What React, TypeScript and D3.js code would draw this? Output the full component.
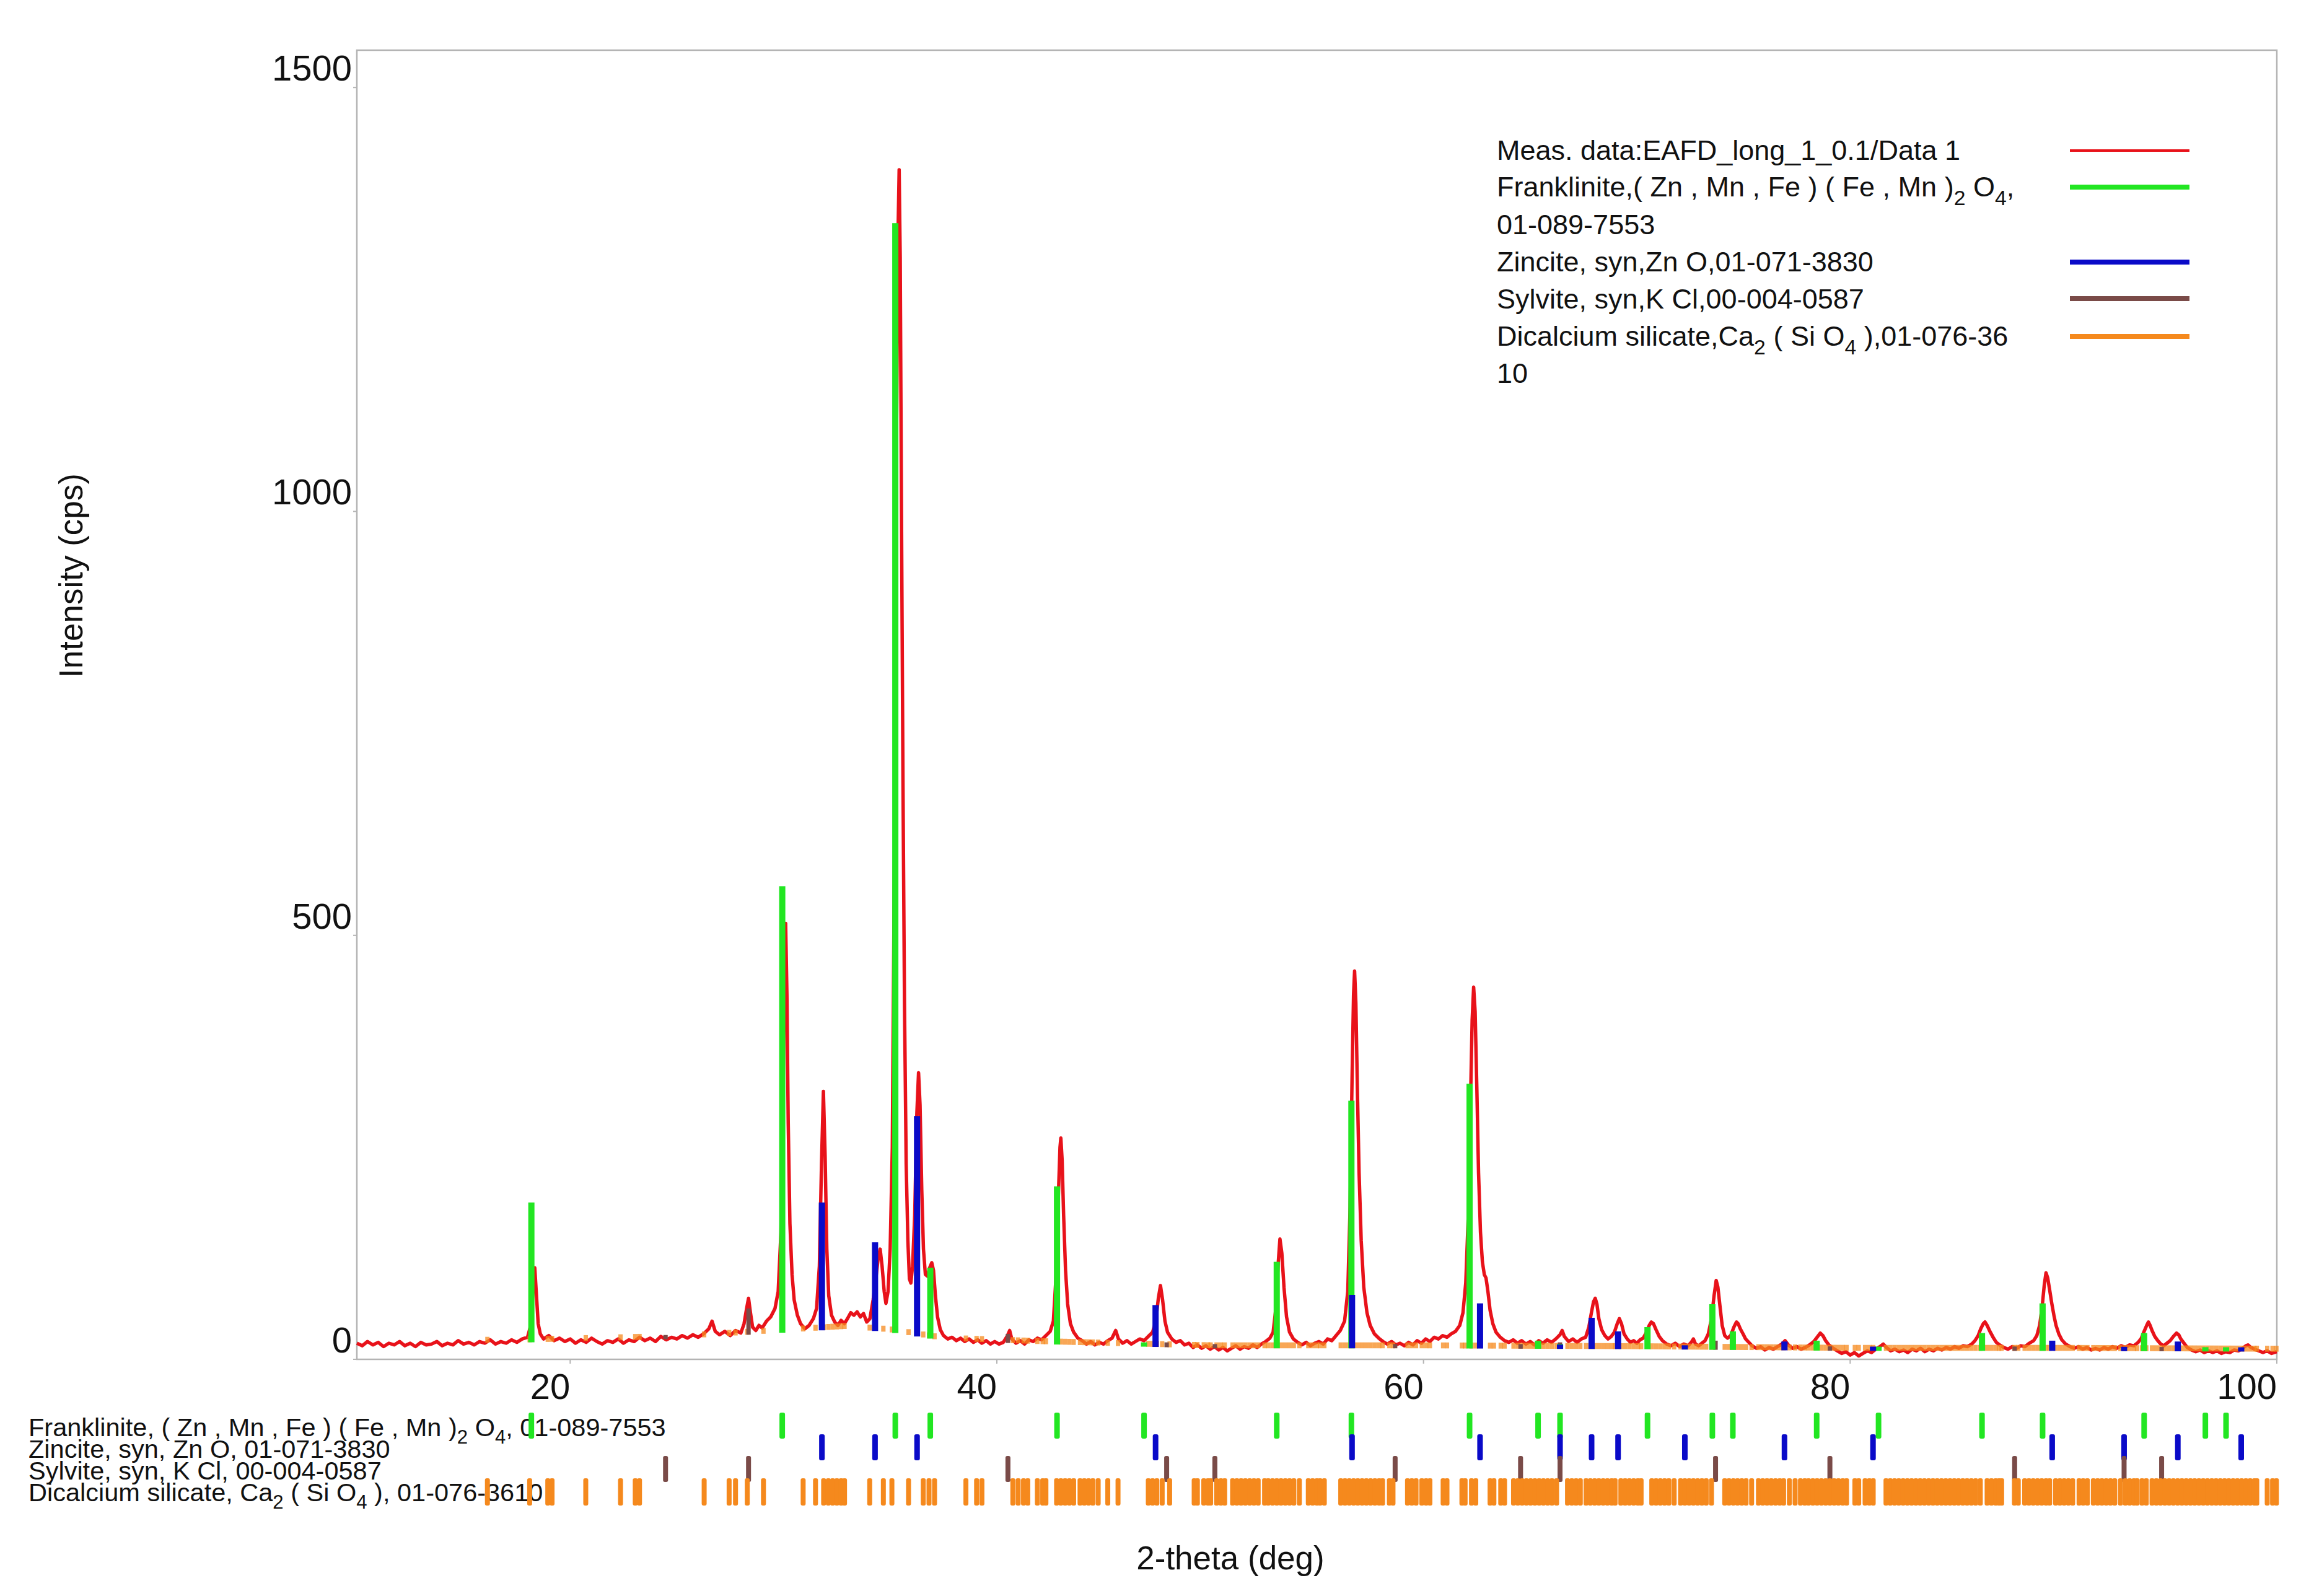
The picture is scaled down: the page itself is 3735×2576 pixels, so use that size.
import React from "react";
import * as d3 from "d3";

// ---------- data ----------
const xTicks = [20, 40, 60, 80, 100];
const yTicks = [0, 500, 1000, 1500];

// measured pattern [2-theta, cps]
const measured: [number, number][] = [
  [10.0,19],[10.25,16],[10.5,21],[10.75,17],[11.0,20],[11.25,15],[11.5,19],[11.75,17],[12.0,21],[12.25,16],[12.5,19],[12.75,15],
  [13.0,20],[13.25,17],[13.5,18],[13.75,21],[14.0,16],[14.25,19],[14.5,17],[14.75,22],[15.0,18],[15.25,20],[15.5,17],[15.75,21],
  [16.0,19],[16.25,23],[16.5,18],[16.75,21],[17.0,19],[17.25,23],[17.5,20],[17.75,24],[18.0,26],[18.15,40],[18.25,78],[18.34,108],
  [18.42,75],[18.5,42],[18.6,30],[18.75,24],[19.0,28],[19.25,22],[19.5,25],[19.75,21],[20.0,24],[20.25,19],[20.5,23],[20.75,20],
  [21.0,25],[21.25,21],[21.5,18],[21.75,22],[22.0,20],[22.25,24],[22.5,19],[22.75,23],[23.0,21],[23.25,26],[23.5,22],[23.75,25],
  [24.0,21],[24.25,27],[24.5,23],[24.75,26],[25.0,24],[25.25,28],[25.5,25],[25.75,29],[26.0,26],[26.25,30],[26.5,36],[26.65,45],
  [26.8,33],[27.0,29],[27.25,33],[27.5,28],[27.75,34],[28.0,31],[28.15,42],[28.27,60],[28.36,72],[28.45,55],[28.55,38],[28.7,34],
  [28.85,40],[29.0,37],[29.2,45],[29.4,50],[29.6,60],[29.75,80],[29.88,150],[29.97,300],[30.05,450],[30.1,514],[30.16,430],[30.22,280],
  [30.3,160],[30.4,100],[30.5,70],[30.65,52],[30.8,42],[31.0,36],[31.2,40],[31.4,48],[31.55,60],[31.68,110],[31.78,230],[31.87,316],
  [31.95,240],[32.03,130],[32.12,75],[32.25,52],[32.4,44],[32.55,40],[32.7,46],[32.85,42],[33.0,48],[33.15,55],[33.3,52],[33.45,56],
  [33.6,50],[33.75,54],[33.9,44],[34.05,48],[34.2,70],[34.35,100],[34.45,122],[34.53,130],[34.62,110],[34.72,80],[34.8,66],[34.9,80],
  [35.0,130],[35.1,250],[35.2,600],[35.3,1100],[35.37,1330],[35.42,1403],[35.47,1300],[35.53,1000],[35.6,680],[35.67,420],[35.75,230],
  [35.83,140],[35.9,95],[35.97,90],[36.05,110],[36.15,170],[36.25,290],[36.33,338],[36.4,300],[36.48,200],[36.56,130],[36.65,100],
  [36.75,98],[36.85,108],[36.95,114],[37.03,105],[37.12,75],[37.22,50],[37.35,35],[37.5,28],[37.7,24],[37.9,26],[38.1,22],[38.3,25],
  [38.5,21],[38.7,24],[38.9,20],[39.1,23],[39.3,19],[39.5,22],[39.7,18],[39.9,21],[40.1,18],[40.3,20],[40.5,28],[40.6,34],[40.7,24],
  [40.9,19],[41.1,22],[41.3,18],[41.5,23],[41.7,21],[41.9,25],[42.1,23],[42.3,28],[42.5,33],[42.65,45],[42.78,100],[42.88,190],
  [42.96,250],[43.0,261],[43.06,235],[43.13,170],[43.22,105],[43.32,65],[43.45,42],[43.6,32],[43.8,25],[44.0,22],[44.2,18],[44.4,21],
  [44.6,17],[44.8,20],[45.0,18],[45.2,22],[45.4,25],[45.57,34],[45.7,24],[45.9,19],[46.1,22],[46.3,18],[46.5,21],[46.7,24],[46.9,22],
  [47.1,27],[47.3,32],[47.45,45],[47.57,72],[47.67,87],[47.77,70],[47.88,45],[48.0,32],[48.2,24],[48.4,20],[48.6,22],[48.8,17],
  [49.0,19],[49.2,14],[49.4,17],[49.6,13],[49.8,16],[50.0,12],[50.2,15],[50.4,11],[50.6,14],[50.8,10],[51.0,13],[51.2,16],[51.4,12],
  [51.6,15],[51.8,13],[52.0,17],[52.2,14],[52.4,18],[52.6,21],[52.8,25],[52.95,32],[53.08,60],[53.18,110],[53.27,142],[53.36,125],
  [53.46,85],[53.58,50],[53.72,32],[53.9,24],[54.1,20],[54.3,17],[54.5,20],[54.7,16],[54.9,19],[55.1,21],[55.3,18],[55.5,24],[55.7,22],
  [55.9,28],[56.1,34],[56.3,45],[56.45,80],[56.56,180],[56.65,330],[56.72,430],[56.77,458],[56.83,420],[56.9,320],[56.98,220],[57.08,140],
  [57.2,85],[57.35,55],[57.5,40],[57.7,30],[57.9,25],[58.1,21],[58.3,18],[58.5,21],[58.7,17],[58.9,19],[59.1,16],[59.3,20],[59.5,17],
  [59.7,22],[59.9,19],[60.1,24],[60.3,21],[60.5,26],[60.7,24],[60.9,28],[61.1,26],[61.3,30],[61.5,33],[61.7,40],[61.85,55],[61.98,90],
  [62.1,170],[62.2,300],[62.28,400],[62.35,439],[62.42,410],[62.5,320],[62.58,220],[62.67,150],[62.76,115],[62.85,100],[62.93,96],
  [63.02,80],[63.12,58],[63.25,42],[63.4,32],[63.6,26],[63.8,22],[64.0,20],[64.2,23],[64.4,19],[64.6,22],[64.8,18],[65.0,21],[65.2,17],
  [65.4,22],[65.6,19],[65.8,23],[66.0,20],[66.2,24],[66.4,29],[66.5,34],[66.6,27],[66.8,21],[67.0,24],[67.2,20],[67.4,24],[67.6,26],
  [67.75,38],[67.87,55],[67.97,68],[68.05,72],[68.13,65],[68.22,48],[68.35,35],[68.5,28],[68.65,24],[68.8,27],[68.95,32],[69.08,42],
  [69.18,48],[69.28,42],[69.4,30],[69.55,24],[69.7,20],[69.85,22],[70.0,19],[70.15,23],[70.3,25],[70.45,32],[70.58,40],[70.68,44],
  [70.78,42],[70.9,35],[71.05,27],[71.2,22],[71.4,18],[71.6,16],[71.8,19],[72.0,15],[72.2,18],[72.4,16],[72.55,20],[72.65,24],[72.75,18],
  [72.9,16],[73.05,19],[73.2,22],[73.35,30],[73.5,48],[73.62,75],[73.72,93],[73.8,85],[73.9,62],[74.0,40],[74.12,28],[74.25,25],
  [74.4,28],[74.55,38],[74.67,44],[74.75,42],[74.85,36],[74.98,30],[75.1,24],[75.25,20],[75.4,16],[75.6,13],[75.8,15],[76.0,11],
  [76.2,14],[76.4,12],[76.6,15],[76.8,18],[76.95,22],[77.1,17],[77.3,13],[77.5,15],[77.7,12],[77.9,14],[78.1,17],[78.3,21],[78.45,26],
  [78.6,31],[78.72,28],[78.85,22],[79.0,17],[79.2,13],[79.4,10],[79.6,7],[79.8,9],[80.0,5],[80.2,8],[80.4,4],[80.6,7],[80.8,10],
  [81.0,8],[81.2,12],[81.4,15],[81.55,18],[81.7,14],[81.9,10],[82.1,12],[82.3,9],[82.5,11],[82.7,8],[82.9,12],[83.1,10],[83.3,13],
  [83.5,9],[83.7,12],[83.9,10],[84.1,13],[84.3,11],[84.5,14],[84.7,12],[84.9,15],[85.1,13],[85.3,16],[85.5,15],[85.7,18],[85.85,22],
  [86.0,28],[86.12,36],[86.24,42],[86.32,44],[86.42,40],[86.55,33],[86.7,26],[86.85,20],[87.0,17],[87.2,14],[87.4,12],[87.6,15],
  [87.8,13],[88.0,16],[88.2,15],[88.4,19],[88.6,22],[88.75,28],[88.88,40],[89.0,62],[89.1,88],[89.18,102],[89.26,96],[89.35,82],
  [89.45,66],[89.55,52],[89.65,40],[89.78,30],[89.92,23],[90.1,18],[90.3,15],[90.5,13],[90.7,15],[90.9,12],[91.1,14],[91.3,11],
  [91.5,13],[91.7,11],[91.9,14],[92.1,12],[92.3,15],[92.5,13],[92.7,16],[92.9,14],[93.1,17],[93.3,16],[93.5,20],[93.65,25],[93.78,33],
  [93.9,40],[93.98,44],[94.06,40],[94.15,34],[94.28,27],[94.42,22],[94.56,18],[94.7,16],[94.85,19],[95.0,22],[95.15,27],[95.3,31],
  [95.4,29],[95.5,24],[95.65,19],[95.8,14],[96.0,11],[96.2,9],[96.4,11],[96.6,8],[96.8,10],[97.0,8],[97.2,10],[97.4,7],[97.6,9],
  [97.8,8],[98.0,11],[98.2,10],[98.4,13],[98.55,16],[98.65,17],[98.78,14],[98.95,12],[99.15,10],[99.35,8],[99.55,10],[99.75,7],[100.0,9],
];

// background level (stick bases) knots
const baseTheta = [10, 18, 25, 29, 33, 35, 37.5, 42, 50, 60, 70, 80, 90, 100];
const baseCps = [18, 20, 24, 30, 36, 32, 22, 18, 13, 13, 12, 10, 10, 9];

// reference patterns [2-theta, cps top]
const franklinite: [number, number][] = [
  [18.18,185],[29.94,558],[35.24,1340],[36.88,108],[42.82,204],[46.90,20],[53.12,115],[56.62,305],[62.16,325],[65.37,22],
  [66.40,18],[70.50,38],[73.54,65],[74.50,33],[78.43,22],[81.33,14],[86.18,31],[89.02,66],[93.78,31],[96.65,12],[97.62,12],
];
const zincite: [number, number][] = [
  [31.80,185],[34.29,138],[36.26,287],[47.44,64],[56.65,76],[62.65,66],[66.40,16],[67.88,49],[69.12,33],[72.25,12],
  [76.92,21],[81.07,13],[89.47,22],[92.84,11],[95.36,21],[98.33,12],
];
const sylvite: [number, number][] = [
  [24.47,26],[28.36,60],[40.52,30],[47.96,20],[50.22,17],[58.67,17],[64.55,18],[66.40,20],[73.69,22],[79.05,14],
  [87.71,14],[92.84,13],[94.6,13],
];
const dicalcium: number[] = [
  16.12,18.1,18.95,19.15,20.73,22.36,23.05,23.25,26.28,27.45,27.75,28.3,29.06,30.92,31.5,31.88,32.1,32.3,32.5,32.7,32.86,
  34.04,34.68,35.08,35.86,36.55,36.82,37.08,38.55,39.05,39.3,
  40.75,41.0,41.25,41.45,41.9,42.15,42.3,42.8,43.0,43.2,43.4,43.6,43.9,44.1,44.3,44.5,44.75,45.2,45.68,
  47.1,47.3,47.5,47.75,48.1,49.25,49.4,49.7,49.9,50.02,50.3,50.5,50.68,
  51.05,51.25,51.45,51.65,51.85,52.05,52.25,52.55,52.72,52.92,53.12,53.32,53.52,53.72,53.92,54.18,
  54.6,54.8,55.0,55.15,55.35,56.12,56.32,56.52,56.72,56.92,57.12,57.32,57.52,57.72,57.92,58.08,58.4,58.57,
  59.25,59.45,59.65,59.92,60.12,60.3,60.92,61.1,61.8,61.95,62.25,62.45,63.12,63.3,63.62,63.8,
  64.22,64.42,64.62,64.82,65.02,65.22,65.42,65.62,65.82,66.02,66.24,66.75,66.95,67.15,67.35,
  67.62,67.82,68.02,68.22,68.42,68.62,68.82,68.98,69.25,69.45,69.65,69.85,70.05,70.2,
  70.7,70.9,71.1,71.3,71.5,71.75,72.05,72.25,72.45,72.65,72.85,73.05,73.25,73.5,
  74.12,74.32,74.52,74.72,74.92,75.12,75.38,75.7,75.9,76.1,76.3,76.5,76.7,76.88,77.15,77.42,77.67,77.87,78.05,
  78.25,78.45,78.65,78.85,79.05,79.25,79.45,79.65,79.83,80.22,80.4,80.7,80.9,81.08,
  81.68,81.88,82.08,82.28,82.48,82.68,82.88,83.08,83.28,83.48,83.68,83.88,84.08,84.28,84.48,84.68,84.88,85.08,85.28,85.48,85.68,85.88,86.1,
  86.42,86.62,86.82,86.98,87.1,87.7,87.88,88.18,88.38,88.58,88.78,88.98,89.18,89.35,
  89.63,89.83,90.03,90.23,90.43,90.73,90.92,91.12,91.4,91.6,91.8,92.0,92.2,92.4,92.67,92.9,93.1,93.3,93.45,93.68,93.88,94.15,
  94.35,94.55,94.75,94.95,95.15,95.35,95.55,95.75,95.95,96.15,96.35,96.55,96.75,96.95,97.15,97.35,97.55,97.75,97.95,98.15,98.35,98.55,98.75,98.95,99.06,
  99.55,99.8,99.98,
];

const RED = "#e8121a";
const GREEN = "#22e622";
const BLUE = "#0a0ac8";
const BROWN = "#7a4b48";
const ORANGE = "#f5891d";
const FONT = "'Liberation Sans', Arial, Helvetica, sans-serif";

// text made of plain parts and subscript parts
type Part = { t: string; sub?: boolean };
const legendFranklinite: Part[] = [
  { t: "Franklinite,( Zn , Mn , Fe ) ( Fe , Mn )" }, { t: "2", sub: true }, { t: " O" }, { t: "4", sub: true }, { t: "," },
];
const legendDicalcium: Part[] = [
  { t: "Dicalcium silicate,Ca" }, { t: "2", sub: true }, { t: " ( Si O" }, { t: "4", sub: true }, { t: " ),01-076-36" },
];
const rowFranklinite: Part[] = [
  { t: "Franklinite, ( Zn , Mn , Fe ) ( Fe , Mn )" }, { t: "2", sub: true }, { t: " O" }, { t: "4", sub: true }, { t: ", 01-089-7553" },
];
const rowDicalcium: Part[] = [
  { t: "Dicalcium silicate, Ca" }, { t: "2", sub: true }, { t: " ( Si O" }, { t: "4", sub: true }, { t: " ), 01-076-3610" },
];

function Rich({ parts, x, y, fs }: { parts: Part[]; x: number; y: number; fs: number }) {
  const off = Math.round(fs * 0.3);
  let prevSub = false;
  return (
    <text x={x} y={y} fontSize={fs} fill="#111">
      {parts.map((p, i) => {
        const dy = p.sub ? (prevSub ? 0 : off) : prevSub ? -off : 0;
        prevSub = !!p.sub;
        return (
          <tspan key={i} dy={dy} fontSize={p.sub ? fs * 0.75 : fs}>
            {p.t}
          </tspan>
        );
      })}
    </text>
  );
}

export default function App() {
  const W = 3735, H = 2576;
  const L = 576, R = 3675, T = 81, B = 2194;
  const x = d3.scaleLinear().domain([10, 100]).range([L, R]);
  const y = d3.scaleLinear().domain([0, 1544]).range([B, T]);
  const base = d3.scaleLinear().domain(baseTheta).range(baseCps);
  const line = d3.line<[number, number]>().x((d) => x(d[0])).y((d) => y(d[1]));

  const mainStick = (data: [number, number][], color: string, w: number, key: string) =>
    data.map(([t, v], i) => {
      const b = base(t);
      const top = Math.max(v, b + 5);
      return (
        <rect key={key + i} x={x(t) - w / 2} y={y(top)} width={w} height={y(b) - y(top)} fill={color} />
      );
    });

  const rows = [
    { data: franklinite.map((d) => d[0]), color: GREEN, y0: 2280, h: 42, w: 9 },
    { data: zincite.map((d) => d[0]), color: BLUE, y0: 2315, h: 42, w: 9 },
    { data: sylvite.map((d) => d[0]), color: BROWN, y0: 2350, h: 42, w: 8 },
    { data: dicalcium, color: ORANGE, y0: 2386, h: 44, w: 8 },
  ];

  const legendX = 2416;
  const legFS = 45;
  const lblFS = 41.5;

  return (
    <svg width={W} height={H} style={{ position: "absolute", left: 0, top: 0, background: "#fff" }} fontFamily={FONT}>
      <rect x={0} y={0} width={W} height={H} fill="#fff" />
      {/* frame */}
      <rect x={L} y={T} width={R - L} height={B - T} fill="none" stroke="#b4b4b4" strokeWidth={2.5} />
      {/* y ticks */}
      {yTicks.map((v) => (
        <g key={"yt" + v}>
          <line x1={L - 6} x2={L} y1={y(v)} y2={y(v)} stroke="#b4b4b4" strokeWidth={2} />
          <text x={568} y={y(v) - 11} textAnchor="end" fontSize={58} fill="#111">{v}</text>
        </g>
      ))}
      {/* x ticks */}
      {xTicks.map((v) => (
        <g key={"xt" + v}>
          <line x1={x(v)} x2={x(v)} y1={B} y2={B + 7} stroke="#b4b4b4" strokeWidth={2} />
          <text x={x(v)} y={2258} textAnchor="end" fontSize={58} fill="#111">{v}</text>
        </g>
      ))}
      {/* axis titles */}
      <text transform="translate(133,929) rotate(-90)" textAnchor="middle" fontSize={53} fill="#111">Intensity (cps)</text>
      <text x={1986} y={2533} textAnchor="middle" fontSize={53} fill="#111">2-theta (deg)</text>

      {/* measured data */}
      <path d={line(measured) || ""} fill="none" stroke={RED} strokeWidth={5.5} strokeLinejoin="round" />

      {/* reference sticks in plot */}
      {dicalcium.map((t, i) => {
        const b = base(t);
        return <rect key={"dc" + i} x={x(t) - 3.5} y={y(b + 7)} width={7} height={y(b) - y(b + 7)} fill={ORANGE} opacity={0.75} />;
      })}
      {mainStick(sylvite, BROWN, 7, "sy")}
      {mainStick(franklinite, GREEN, 10, "fr")}
      {mainStick(zincite, BLUE, 10, "zn")}

      {/* legend */}
      <text x={legendX} y={258} fontSize={legFS} fill="#111">Meas. data:EAFD_long_1_0.1/Data 1</text>
      <Rich parts={legendFranklinite} x={legendX} y={317} fs={legFS} />
      <text x={legendX} y={378} fontSize={legFS} fill="#111">01-089-7553</text>
      <text x={legendX} y={438} fontSize={legFS} fill="#111">Zincite, syn,Zn O,01-071-3830</text>
      <text x={legendX} y={498} fontSize={legFS} fill="#111">Sylvite, syn,K Cl,00-004-0587</text>
      <Rich parts={legendDicalcium} x={legendX} y={558} fs={legFS} />
      <text x={legendX} y={618} fontSize={legFS} fill="#111">10</text>
      <line x1={3341} x2={3534} y1={243} y2={243} stroke={RED} strokeWidth={4} />
      <line x1={3341} x2={3534} y1={302} y2={302} stroke={GREEN} strokeWidth={8} />
      <line x1={3341} x2={3534} y1={423} y2={423} stroke={BLUE} strokeWidth={8} />
      <line x1={3341} x2={3534} y1={482} y2={482} stroke={BROWN} strokeWidth={8} />
      <line x1={3341} x2={3534} y1={543} y2={543} stroke={ORANGE} strokeWidth={8} />

      {/* bottom stick-pattern labels */}
      <Rich parts={rowFranklinite} x={46} y={2318} fs={lblFS} />
      <text x={46} y={2353} fontSize={lblFS} fill="#111">Zincite, syn, Zn O, 01-071-3830</text>
      <text x={46} y={2388} fontSize={lblFS} fill="#111">Sylvite, syn, K Cl, 00-004-0587</text>
      <Rich parts={rowDicalcium} x={46} y={2423} fs={lblFS} />
      {/* bottom stick rows */}
      {rows.map((r, ri) =>
        r.data.map((t, i) => (
          <rect key={"r" + ri + "_" + i} x={x(t) - r.w / 2} y={r.y0} width={r.w} height={r.h} rx={3} fill={r.color} />
        ))
      )}
    </svg>
  );
}
